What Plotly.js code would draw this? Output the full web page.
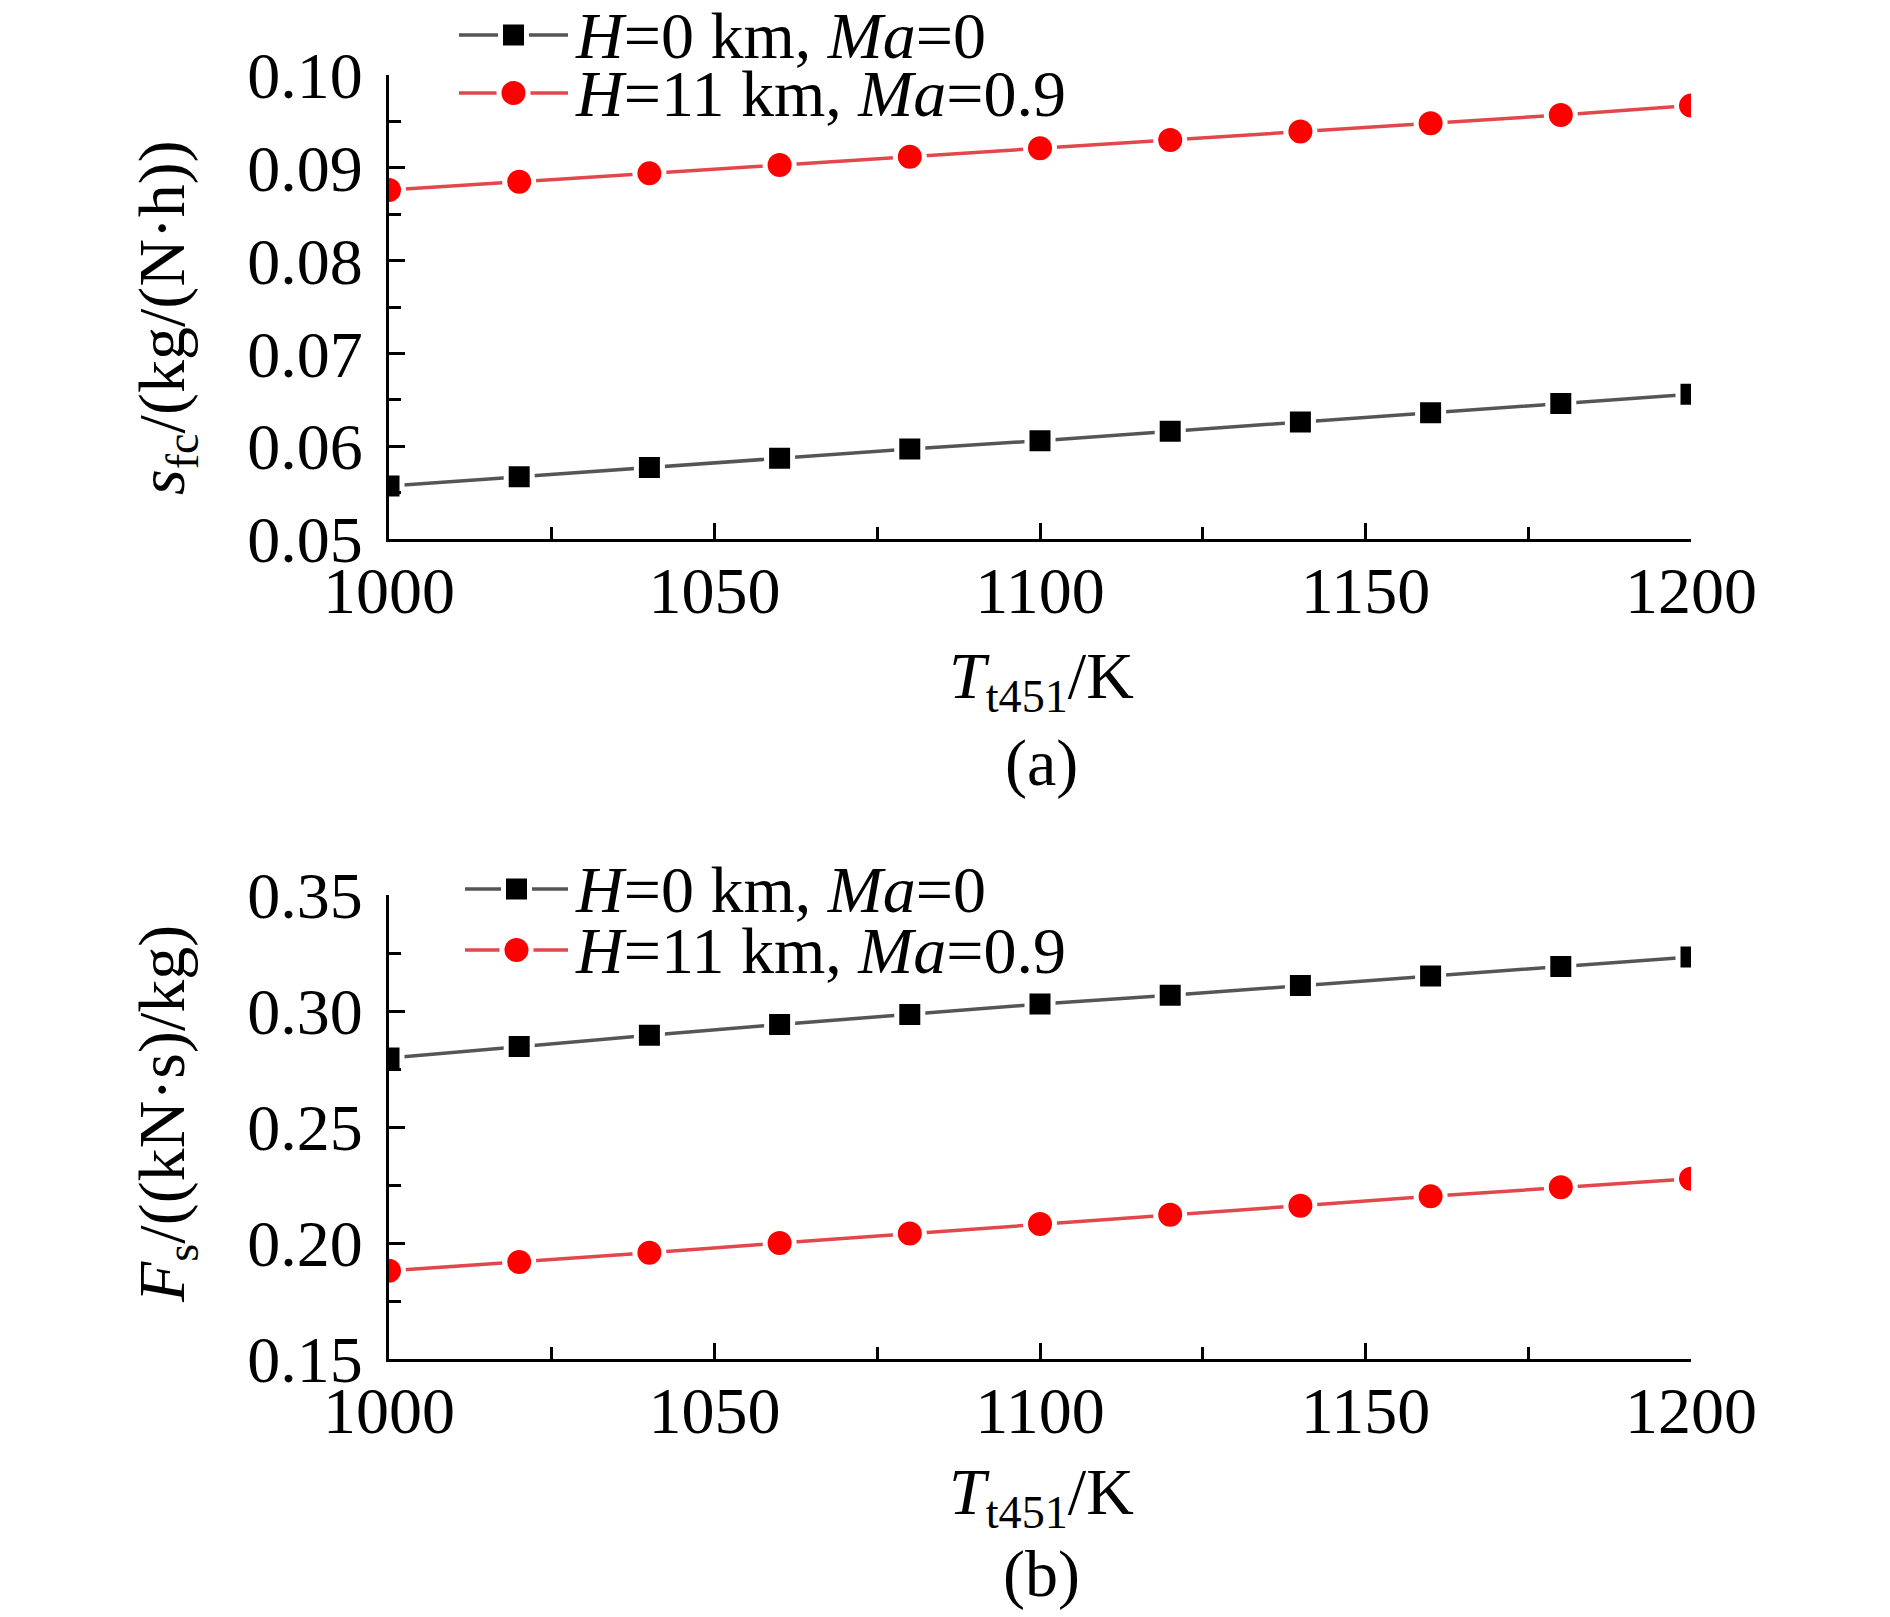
<!DOCTYPE html>
<html>
<head>
<meta charset="utf-8">
<script src="https://cdn.plot.ly/plotly-3.0.1.min.js"></script>
<style>
  body { margin: 0; background: #fff; }
  #chart { width: 1890px; height: 1617px; }
</style>
</head>
<body>
<div id="chart"></div>
<script>
// turbine exit temperature T_t451 / K
var temps = [1000, 1020, 1040, 1060, 1080, 1100, 1120, 1140, 1160, 1180, 1200];

// (a) specific fuel consumption, kg/(N.h)
var sfcSeaLevel = [0.0557, 0.0567, 0.0577, 0.0587, 0.0597, 0.0606, 0.0616, 0.0626, 0.0636, 0.0646, 0.0656];
var sfcCruise   = [0.0876, 0.0885, 0.0894, 0.0903, 0.0912, 0.0921, 0.0930, 0.0939, 0.0948, 0.0957, 0.0967];

// (b) specific thrust, (kN.s)/kg
var fsSeaLevel = [0.2797, 0.2847, 0.2895, 0.2942, 0.2985, 0.3030, 0.3068, 0.3110, 0.3151, 0.3192, 0.3233];
var fsCruise   = [0.1880, 0.1918, 0.1958, 0.2000, 0.2041, 0.2082, 0.2122, 0.2161, 0.2201, 0.2240, 0.2277];

var seriesNames = ['<i>H</i>=0 km, <i>Ma</i>=0', '<i>H</i>=11 km, <i>Ma</i>=0.9'];
var xTicks = [1000, 1050, 1100, 1150, 1200];

var W = 1890, H = 1617;
var FONT = '"Liberation Serif", "Times New Roman", serif';
var FS = 66;
var GAP = 5;   // white ring that breaks the line next to each marker

var GREY_LINE = '#555555', RED_LINE = '#e2474b';

function px(x) { return x / W; }
function py(y) { return 1 - y / H; }

function blackTrace(y, xa, ya) {
    return {
        x: temps, y: y, xaxis: xa, yaxis: ya,
        mode: 'lines+markers', showlegend: false,
        line: {color: GREY_LINE, width: 3.5},
        marker: {symbol: 'square', size: 21 + GAP, color: '#000000',
                 line: {color: '#ffffff', width: GAP}}
    };
}

function redTrace(y, xa, ya) {
    return {
        x: temps, y: y, xaxis: xa, yaxis: ya,
        mode: 'lines+markers', showlegend: false,
        line: {color: RED_LINE, width: 3.5},
        marker: {symbol: 'circle', size: 24 + GAP, color: '#ff0000',
                 line: {color: '#ffffff', width: GAP}}
    };
}

function xAxis(anchor) {
    return {
        domain: [px(389), px(1691)], anchor: anchor,
        range: [1000, 1200], tickvals: xTicks,
        showline: true, linecolor: '#000', linewidth: 3, mirror: false,
        ticks: 'inside', ticklen: 16, tickwidth: 3, tickcolor: '#000',
        minor: {dtick: 25, tick0: 1000, ticks: 'inside', ticklen: 12, tickwidth: 3, tickcolor: '#000'},
        showgrid: false, zeroline: false,
        ticklabelstandoff: -8,
        tickfont: {family: FONT, size: FS, color: '#000'}
    };
}

function yAxis(top, bottom, range, dtick, anchor) {
    return {
        domain: [py(bottom), py(top)], anchor: anchor,
        range: range, dtick: dtick, tick0: range[0], tickformat: '.2f',
        showline: true, linecolor: '#000', linewidth: 3, mirror: false,
        ticks: 'inside', ticklen: 16, tickwidth: 3, tickcolor: '#000',
        minor: {dtick: dtick / 2, ticks: 'inside', ticklen: 12, tickwidth: 3, tickcolor: '#000'},
        showgrid: false, zeroline: false,
        ticklabelstandoff: 10,
        tickfont: {family: FONT, size: FS, color: '#000'}
    };
}

function text(t, x, y, opts) {
    var a = {
        text: t, xref: 'paper', yref: 'paper', x: px(x), y: py(y),
        showarrow: false, xanchor: 'center', yanchor: 'middle',
        font: {family: FONT, size: FS, color: '#000'}
    };
    for (var k in opts) a[k] = opts[k];
    return a;
}

// hand made legend: line, marker, label
var shapes = [];
var annotations = [];

function legendEntry(y, x0, x1, name, kind) {
    var col = kind == 'square' ? GREY_LINE : RED_LINE;
    var mcol = kind == 'square' ? '#000000' : '#ff0000';
    var xm = (x0 + x1) / 2;
    shapes.push({type: 'line', xref: 'paper', yref: 'paper',
                 x0: px(x0), x1: px(x1), y0: py(y), y1: py(y),
                 line: {color: col, width: 3.5}});
    var r = ((kind == 'square' ? 21 : 24) + GAP) / 2;
    shapes.push({type: kind == 'square' ? 'rect' : 'circle',
                 xref: 'paper', yref: 'paper',
                 xsizemode: 'pixel', ysizemode: 'pixel',
                 xanchor: px(xm), yanchor: py(y),
                 x0: -r, x1: r, y0: -r, y1: r,
                 fillcolor: mcol, line: {color: '#ffffff', width: GAP}});
    annotations.push(text(name, x1 + 5, y, {xanchor: 'left'}));
}

legendEntry(35, 459, 568, seriesNames[0], 'square');
legendEntry(93, 459, 568, seriesNames[1], 'circle');
legendEntry(889, 465, 568, seriesNames[0], 'square');
legendEntry(950, 465, 568, seriesNames[1], 'circle');

// axis titles and panel labels
annotations.push(text('<i>s</i><sub>fc</sub>/(kg/(N·h))', 166, 318, {textangle: -90}));
annotations.push(text('<i>F</i><sub>s</sub>/((kN·s)/kg)', 166, 1114, {textangle: -90}));
annotations.push(text('<i>T</i><sub>t451</sub>/K', 1041, 680, {}));
annotations.push(text('<i>T</i><sub>t451</sub>/K', 1041, 1496, {}));
annotations.push(text('(a)', 1041, 763, {}));
annotations.push(text('(b)', 1041, 1574, {}));

var data = [
    blackTrace(sfcSeaLevel, 'x', 'y'),
    redTrace(sfcCruise, 'x', 'y'),
    blackTrace(fsSeaLevel, 'x2', 'y2'),
    redTrace(fsCruise, 'x2', 'y2')
];

var layout = {
    width: W, height: H,
    margin: {l: 0, r: 0, t: 0, b: 0},
    paper_bgcolor: '#fff', plot_bgcolor: 'rgba(0,0,0,0)',
    showlegend: false,
    xaxis: xAxis('y'),
    yaxis: yAxis(75, 539, [0.05, 0.10], 0.01, 'x'),
    xaxis2: xAxis('y2'),
    yaxis2: yAxis(895, 1359, [0.15, 0.35], 0.05, 'x2'),
    shapes: shapes,
    annotations: annotations
};

Plotly.newPlot('chart', data, layout, {staticPlot: true});
</script>
</body>
</html>
